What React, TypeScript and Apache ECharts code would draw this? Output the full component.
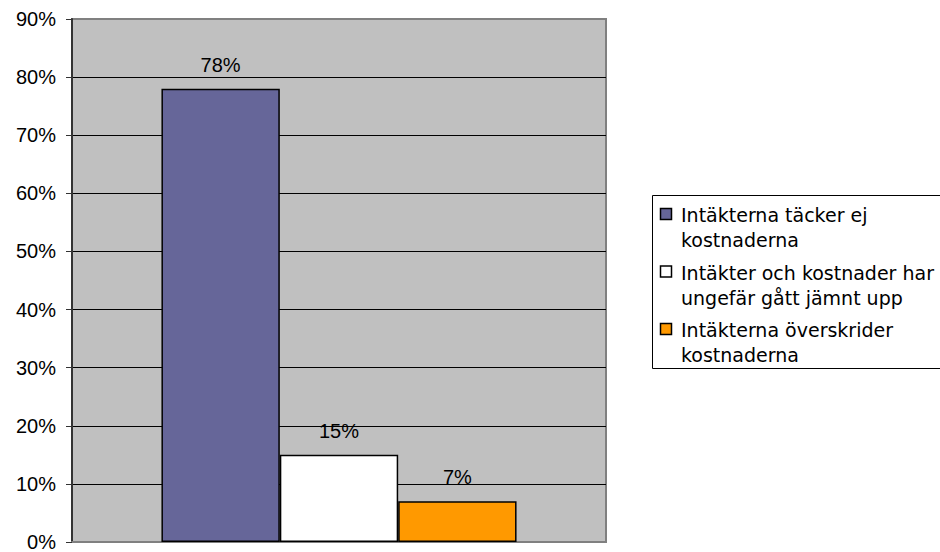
import React, { useEffect, useRef } from "react";
import * as echarts from "echarts";

const categories = [""];
const seriesNames = [
  "Intäkterna täcker ej\nkostnaderna",
  "Intäkter och kostnader har\nungefär gått jämnt upp",
  "Intäkterna överskrider\nkostnaderna",
];
const seriesValues = [78, 15, 7];
const seriesColors = ["#666699", "#FFFFFF", "#FF9900"];
const yTicks = [0, 10, 20, 30, 40, 50, 60, 70, 80, 90];

export default function App() {
  const ref = useRef<HTMLDivElement>(null);
  useEffect(() => {
    if (!ref.current) return;
    const chart = echarts.init(ref.current, undefined, { renderer: "svg" });
    const legendGraphics: any[] = [
      {
        type: "rect",
        shape: { x: 652.5, y: 195.5, width: 300, height: 173 },
        style: { fill: "#FFFFFF", stroke: "#000000", lineWidth: 1 },
        z: 10,
      },
    ];
    seriesNames.forEach((name, i) => {
      const top = 202.5 + i * 57.5;
      legendGraphics.push({
        type: "rect",
        shape: { x: 660.5, y: top + 6, width: 11, height: 11 },
        style: { fill: seriesColors[i], stroke: "#000000", lineWidth: 1.5 },
        z: 11,
      });
      legendGraphics.push({
        type: "text",
        x: 681,
        y: top,
        style: {
          text: name,
          fill: "#000000",
          font: "19px 'DejaVu Sans'",
          lineHeight: 25,
          verticalAlign: "top",
        },
        z: 11,
      });
    });
    chart.setOption({
      animation: false,
      backgroundColor: "#FFFFFF",
      grid: {
        left: 72,
        top: 19,
        right: 334,
        bottom: 7,
        show: true,
        backgroundColor: "#C0C0C0",
        borderColor: "#808080",
        borderWidth: 2,
      },
      xAxis: {
        type: "category",
        data: categories,
        axisLine: { lineStyle: { color: "#808080", width: 2 } },
        axisTick: { show: false },
        axisLabel: { show: false },
      },
      yAxis: {
        type: "value",
        min: 0,
        max: 90,
        interval: 10,
        axisLine: { show: true, lineStyle: { color: "#333333", width: 2 } },
        axisTick: { show: true, length: 6, lineStyle: { color: "#333333" } },
        axisLabel: {
          formatter: "{value}%",
          margin: 16,
          color: "#000000",
          fontFamily: "'Liberation Sans', Arial, sans-serif",
          fontSize: 20,
        },
        splitLine: {
          show: true,
          lineStyle: {
            color: yTicks.map((t, i) => (i === yTicks.length - 1 ? "#808080" : "#000000")),
            width: 1,
          },
        },
      },
      series: seriesNames.map((name, i) => ({
        type: "bar",
        name,
        data: [seriesValues[i]],
        barGap: "0%",
        barCategoryGap: "33.5%",
        itemStyle: { color: seriesColors[i], borderColor: "#000000", borderWidth: 1.5 },
        label: {
          show: true,
          position: "top",
          distance: 14,
          formatter: "{c}%",
          color: "#000000",
          fontFamily: "'Liberation Sans', Arial, sans-serif",
          fontSize: 20,
        },
      })),
      graphic: legendGraphics,
    });
    return () => chart.dispose();
  }, []);
  return <div ref={ref} style={{ width: 940, height: 552, position: "absolute", left: 0, top: 0 }} />;
}
